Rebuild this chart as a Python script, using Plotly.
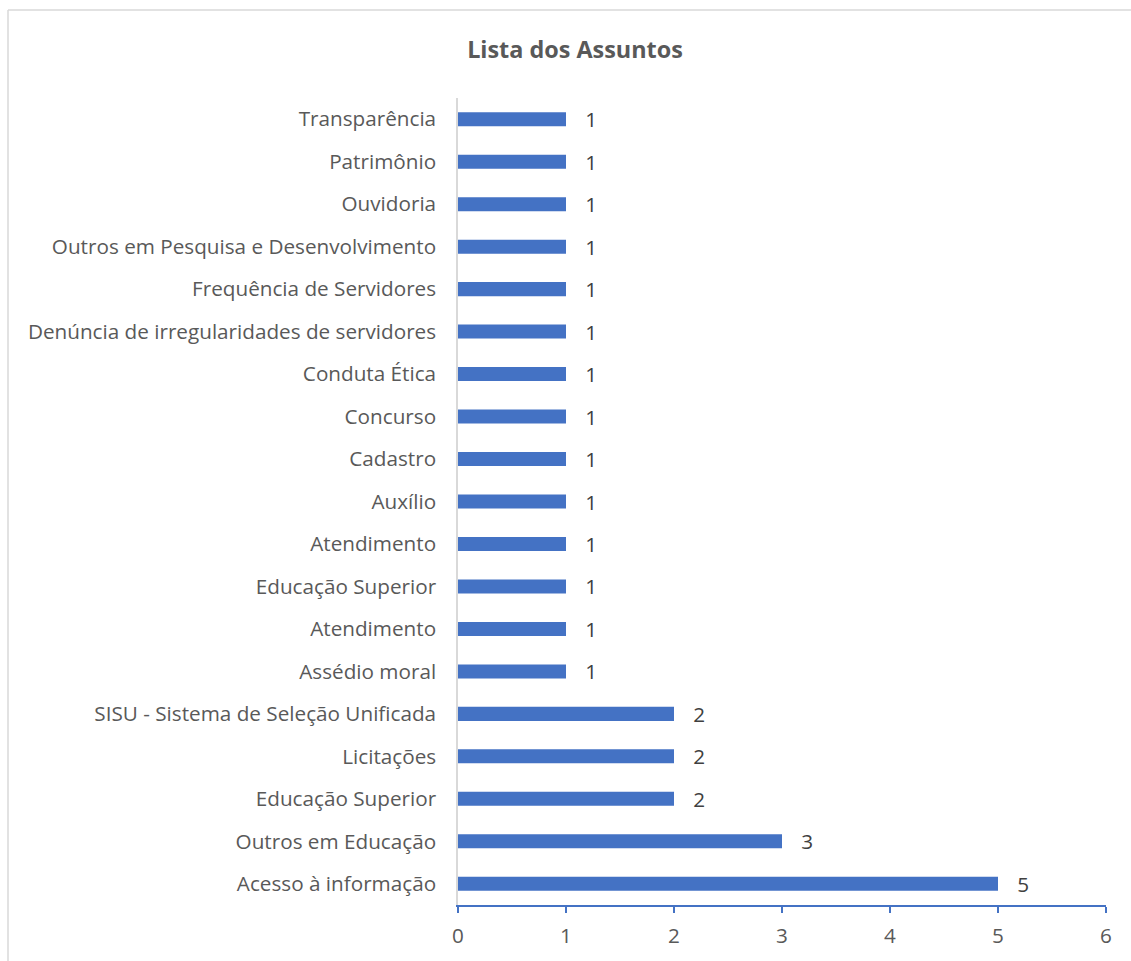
import plotly.graph_objects as go

categories = [
    "Acesso à informação",
    "Outros em Educação",
    "Educação Superior",
    "Licitações",
    "SISU - Sistema de Seleção Unificada",
    "Assédio moral",
    "Atendimento",
    "Educação Superior",
    "Atendimento",
    "Auxílio",
    "Cadastro",
    "Concurso",
    "Conduta Ética",
    "Denúncia de irregularidades de servidores",
    "Frequência de Servidores",
    "Outros em Pesquisa e Desenvolvimento",
    "Ouvidoria",
    "Patrimônio",
    "Transparência",
]
values = [5, 3, 2, 2, 2, 1, 1, 1, 1, 1, 1, 1, 1, 1, 1, 1, 1, 1, 1]
x_ticks = [0, 1, 2, 3, 4, 5, 6]

positions = list(range(len(categories)))

FONT = "Open Sans"
FS = 20.7

fig = go.Figure()
fig.add_trace(go.Bar(
    x=values,
    y=positions,
    orientation="h",
    marker=dict(color="#4472C4", line=dict(width=0)),
    width=0.33,
    text=values,
    texttemplate="   %{x}",
    textposition="outside",
    constraintext="none",
    textfont=dict(family=FONT, size=FS, color="#404040"),
    cliponaxis=False,
    hoverinfo="skip",
))

W, H = 1131, 961
L, R, T, B = 458, 25, 98, 56
pw = W - L - R
ph = H - T - B

fig.update_layout(
    width=W, height=H,
    margin=dict(l=L, r=R, t=T, b=B),
    paper_bgcolor="white",
    plot_bgcolor="white",
    showlegend=False,
    title=dict(
        text="<b>Lista dos Assuntos</b>",
        x=575 / W, xanchor="center",
        y=1 - 50 / H, yanchor="middle",
        font=dict(family=FONT, size=23.4, color="#595959"),
    ),
    xaxis=dict(
        range=[0, 6],
        tickvals=x_ticks,
        ticktext=[str(v) for v in x_ticks],
        showgrid=False,
        zeroline=False,
        showline=True,
        linecolor="#4472C4",
        linewidth=1.5,
        ticks="outside",
        ticklen=6,
        tickcolor="#4472C4",
        tickwidth=1.5,
        ticklabelstandoff=5,
        tickfont=dict(family=FONT, size=FS, color="#595959"),
        fixedrange=True,
    ),
    yaxis=dict(
        range=[-0.5, len(categories) - 0.5],
        tickvals=positions,
        ticktext=categories,
        showgrid=False,
        zeroline=False,
        showline=True,
        linecolor="#D9D9D9",
        linewidth=1.5,
        ticks="",
        ticklabelstandoff=16,
        tickfont=dict(family=FONT, size=FS, color="#595959"),
        fixedrange=True,
    ),
    shapes=[
        dict(type="line", xref="paper", yref="paper",
             x0=(8 - L) / pw, x1=(8 - L) / pw,
             y0=(H - B - 10) / ph, y1=-(B + 5) / ph,
             line=dict(color="#D9D9D9", width=1.5)),
        dict(type="line", xref="paper", yref="paper",
             x0=(8 - L) / pw, x1=(W + 5 - L) / pw,
             y0=(H - B - 10) / ph, y1=(H - B - 10) / ph,
             line=dict(color="#D9D9D9", width=1.5)),
    ],
)

fig.write_html(
    "out.html",
    config={"displayModeBar": False},
    post_script="document.body.style.margin='0';document.body.style.overflow='hidden';",
)
